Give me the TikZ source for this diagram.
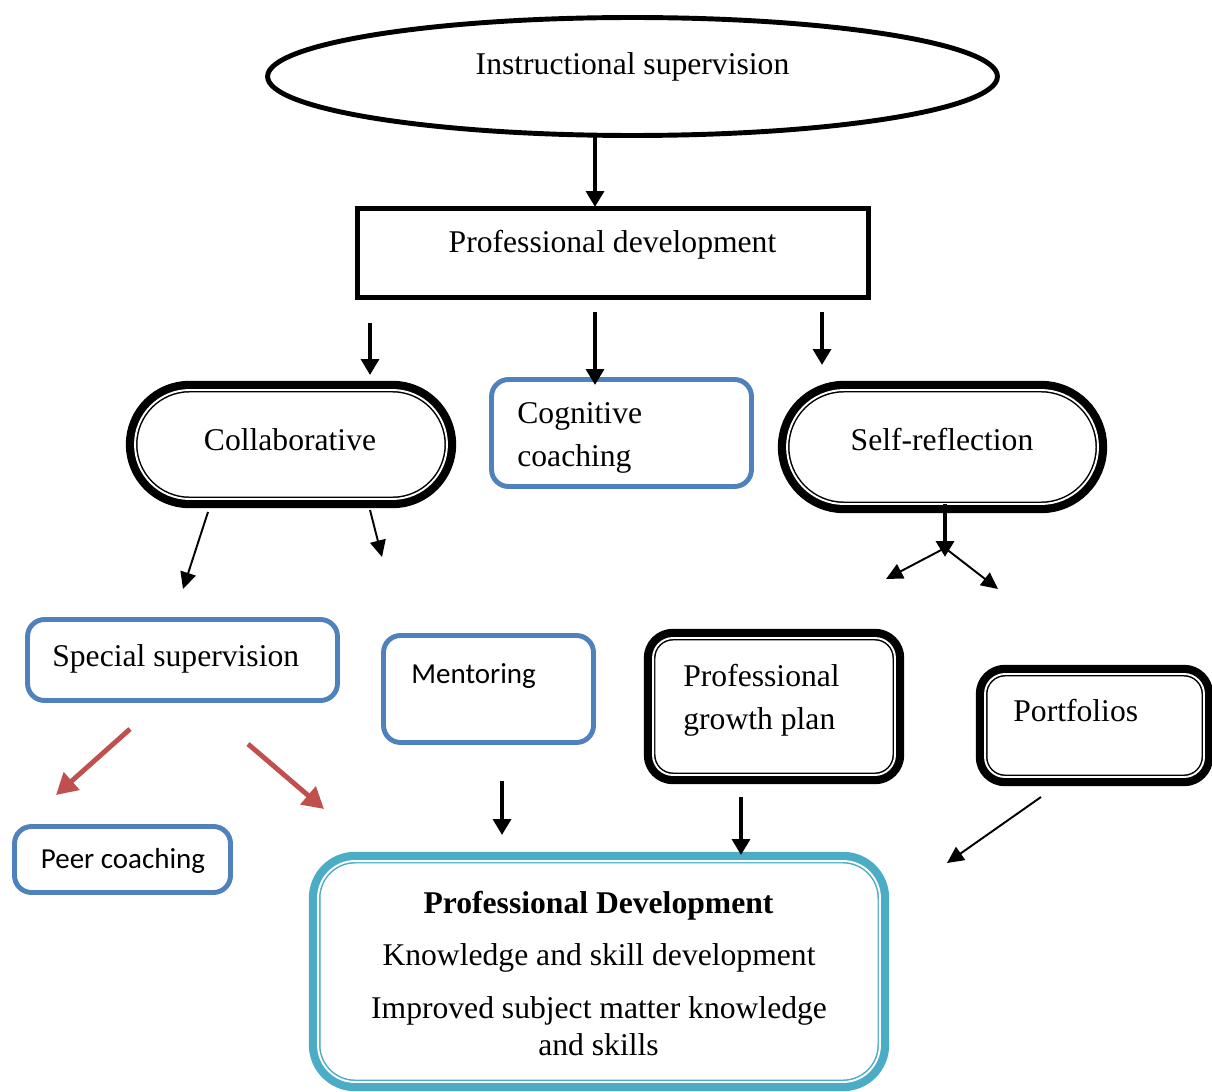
\documentclass[tikz,border=0pt]{standalone}
\usepackage{fontspec}
\setmainfont{Liberation Serif}
\newfontfamily\calibri{Carlito}
\usetikzlibrary{shapes.geometric,shapes.misc,arrows.meta}
\definecolor{boxblue}{HTML}{4F81BD}
\definecolor{arrred}{HTML}{C0504D}
\definecolor{boxteal}{HTML}{4BACC6}

\begin{document}
\begin{tikzpicture}[x=0.02cm,y=-0.02cm,
   dblline/.style={fill=white,
     preaction={draw=#1,line width=10.5pt},
     postaction={draw=#1,line width=2.8pt},
     postaction={draw=white,line width=1.1pt}},
   bluebox/.style={draw=boxblue,line width=2.8pt,rounded corners=0.34cm},
   fat/.style={-{Triangle[width=10pt,length=9pt]},line width=2.4pt},
   slim/.style={-{Triangle[width=9pt,length=9.5pt]},line width=1.1pt},
   redarr/.style={-{Triangle[width=13pt,length=12pt]},line width=2.8pt,draw=arrred}]
   \useasboundingbox (0,0) rectangle (1212,1091);
   % boxes
   \begin{scope}[every node/.style={inner sep=0pt,outer sep=0pt}]
    \node[ellipse,draw,line width=2.8pt,minimum width=14.6cm,minimum height=2.36cm] (instr) at (632.5,76.5) {};
    \node[draw,line width=2.8pt,minimum width=10.22cm,minimum height=1.78cm] (profdev) at (613,253) {};
    \node[rounded rectangle,dblline=black,minimum width=6.24cm,minimum height=2.18cm] (collab) at (291,444.5) {};
    \node[bluebox,minimum width=5.2cm,minimum height=2.14cm] (cogn) at (621.5,433) {};
    \node[rounded rectangle,dblline=black,minimum width=6.22cm,minimum height=2.28cm] (selfref) at (942.5,447) {};
    \node[bluebox,minimum width=6.2cm,minimum height=1.62cm] (special) at (182.5,660) {};
    \node[bluebox,minimum width=4.2cm,minimum height=2.14cm] (mentor) at (488.5,689) {};
    \node[dblline=black,rounded corners=0.4cm,minimum width=4.84cm,minimum height=2.74cm] (growth) at (774,706.5) {};
    \node[dblline=black,rounded corners=0.4cm,minimum width=4.38cm,minimum height=2.06cm] (portf) at (1094.5,725.5) {};
    \node[bluebox,minimum width=4.32cm,minimum height=1.32cm] (peer) at (122.5,859.5) {};
    \node[dblline=boxteal,rounded corners=0.74cm,minimum width=11.24cm,minimum height=4.42cm] (final) at (599,971.5) {};
   \end{scope}
   % texts
   \begin{scope}[every node/.style={inner sep=0pt,anchor=base,font=\fontsize{18}{22}\selectfont}]
    \node (tinstr) at (632.5,75) {Instructional supervision};
    \node (tprof) at (612.5,252) {Professional development};
    \node (tcollab) at (290,450) {Collaborative};
    \node (tself) at (942,450) {Self-reflection};
    \node[anchor=base west] (tcogn) at (517,423) {Cognitive};
    \node[anchor=base west] (tcogn2) at (517,466) {coaching};
    \node[anchor=base west] (tspecial) at (52,666) {Special supervision};
    \node[anchor=base west,font=\calibri\fontsize{16.5}{20}\selectfont] (tmentor) at (411,683) {Mentoring};
    \node[anchor=base west] (tgrowth) at (683,686) {Professional};
    \node[anchor=base west] (tgrowth2) at (683,729) {growth plan};
    \node[anchor=base west] (tportf) at (1013,721) {Portfolios};
    \node[font=\calibri\fontsize{16.5}{20}\selectfont] (tpeer) at (123,868) {Peer coaching};
    \node[font=\fontsize{18}{22}\selectfont\bfseries] (tfinal) at (598.5,913) {Professional Development};
    \node (tfinal2) at (599,965) {Knowledge and skill development};
    \node (tfinal3) at (599,1018) {Improved subject matter knowledge};
    \node (tfinal4) at (598.5,1055) {and skills};
   \end{scope}
   % arrow ends
   \coordinate (in1) at (595,134); \coordinate (pd0) at (595,207);
   \coordinate (pd1) at (370,323); \coordinate (co1) at (370,375);
   \coordinate (pd2) at (595,312); \coordinate (cg1) at (595,385);
   \coordinate (pd3) at (822,312); \coordinate (sr1) at (822,365);
   \coordinate (cl1) at (208,512); \coordinate (ss1) at (183,589);
   \coordinate (cl2) at (370,510); \coordinate (mt1) at (382,557);
   \coordinate (fork) at (945,557); \coordinate (fk) at (945,548);
   \coordinate (pg1) at (886,579); \coordinate (pf1) at (998,589);
   \coordinate (ss2) at (130,729); \coordinate (pc1) at (56,795);
   \coordinate (ss3) at (248,744); \coordinate (pd4) at (324,809);
   \coordinate (mt2) at (502,781); \coordinate (fin1) at (502,835);
   \coordinate (pg2) at (741,797); \coordinate (fin2) at (741,855);
   \coordinate (pf2) at (1041,797); \coordinate (fin3) at (947,863);
   % arrows
   \draw[fat] (in1) -- (pd0);
   \draw[fat] (pd1) -- (co1);
   \draw[fat] (pd2) -- (cg1);
   \draw[fat] (pd3) -- (sr1);
   \draw[slim] (cl1) -- (ss1);
   \draw[slim] (cl2) -- (mt1);
   \draw[fat] (fork |- selfref.south) -- (fork);
   \draw[slim] (fk) -- (pg1);
   \draw[slim] (fk) -- (pf1);
   \draw[redarr] (ss2) -- (pc1);
   \draw[redarr] (ss3) -- (pd4);
   \draw[fat] (mt2) -- (fin1);
   \draw[fat] (pg2) -- (fin2);
   \draw[slim] (pf2) -- (fin3);
\end{tikzpicture}
\end{document}
